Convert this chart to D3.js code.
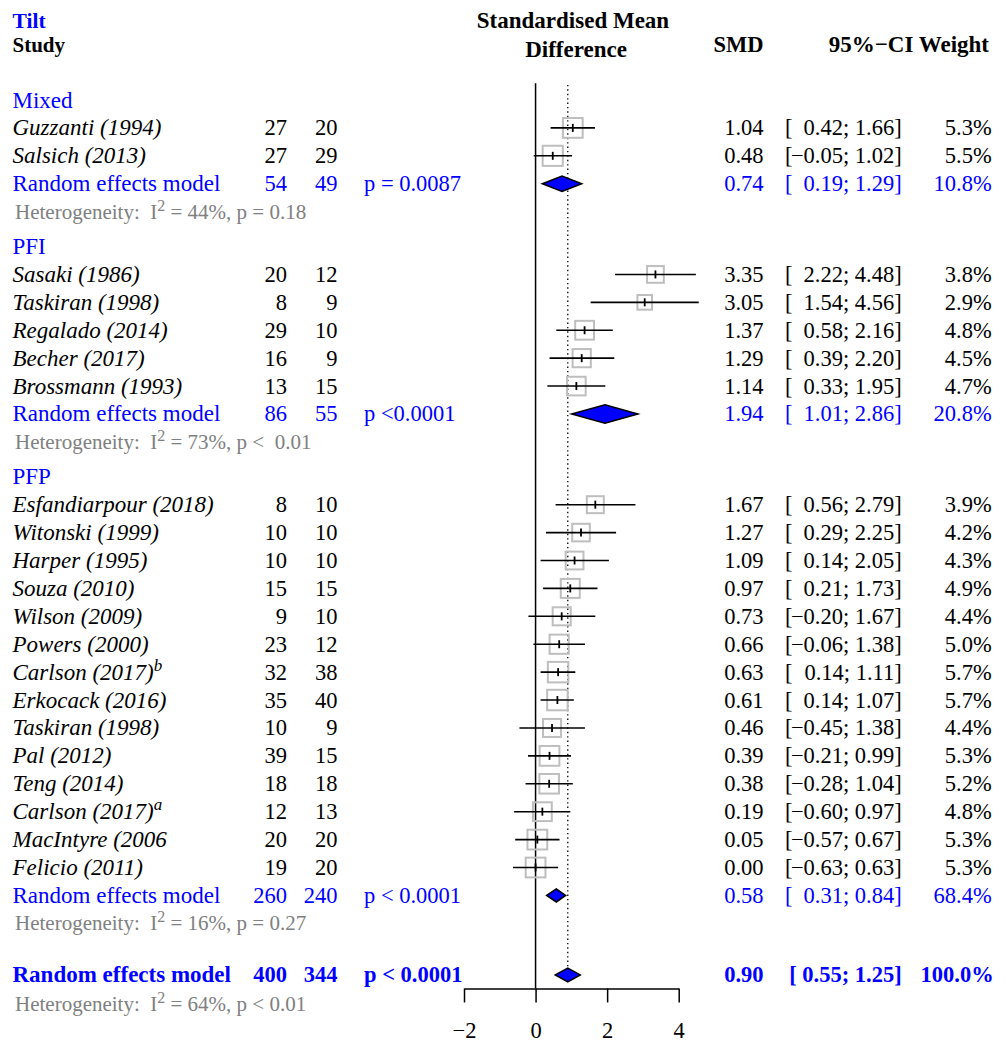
<!DOCTYPE html>
<html><head><meta charset="utf-8">
<script src="https://cdn.jsdelivr.net/npm/d3@7"></script>
<style>body{margin:0;background:#fff} text{white-space:pre}</style>
</head><body><svg id="c" width="1006" height="1050"></svg>
<script>
// ---------------- data ----------------
const title = "Tilt";
const groupNames = ["Mixed", "PFI", "PFP"];
const studyGroup = [0,0, 1,1,1,1,1, 2,2,2,2,2,2,2,2,2,2,2,2,2,2];
const studyLabels = ["Guzzanti (1994)","Salsich (2013)",
  "Sasaki (1986)","Taskiran (1998)","Regalado (2014)","Becher (2017)","Brossmann (1993)",
  "Esfandiarpour (2018)","Witonski (1999)","Harper (1995)","Souza (2010)","Wilson (2009)","Powers (2000)",
  "Carlson (2017)","Erkocack (2016)","Taskiran (1998)","Pal (2012)","Teng (2014)","Carlson (2017)",
  "MacIntyre (2006","Felicio (2011)"];
const studySup = ["","", "","","","","", "","","","","","", "b","","","","","a", "",""];
const nExp = [27,27, 20,8,29,16,13, 8,10,10,15,9,23,32,35,10,39,18,12,20,19];
const nCtl = [20,29, 12,9,10,9,15, 10,10,10,15,10,12,38,40,9,15,18,13,20,20];
const smd = [1.04,0.48, 3.35,3.05,1.37,1.29,1.14, 1.67,1.27,1.09,0.97,0.73,0.66,0.63,0.61,0.46,0.39,0.38,0.19,0.05,0.00];
const ciLow = [0.42,-0.05, 2.22,1.54,0.58,0.39,0.33, 0.56,0.29,0.14,0.21,-0.20,-0.06,0.14,0.14,-0.45,-0.21,-0.28,-0.60,-0.57,-0.63];
const ciHigh = [1.66,1.02, 4.48,4.56,2.16,2.20,1.95, 2.79,2.25,2.05,1.73,1.67,1.38,1.11,1.07,1.38,0.99,1.04,0.97,0.67,0.63];
const weight = [5.3,5.5, 3.8,2.9,4.8,4.5,4.7, 3.9,4.2,4.3,4.9,4.4,5.0,5.7,5.7,4.4,5.3,5.2,4.8,5.3,5.3];

const subN1 = [54, 86, 260];
const subN2 = [49, 55, 240];
const subP = ["p = 0.0087", "p <0.0001", "p < 0.0001"];
const subSmd = [0.74, 1.94, 0.58];
const subLow = [0.19, 1.01, 0.31];
const subHigh = [1.29, 2.86, 0.84];
const subWeight = [10.8, 20.8, 68.4];
const subI2 = [44, 73, 16];
const subHetP = ["p = 0.18", "p <  0.01", "p = 0.27"];

const allN1 = 400, allN2 = 344, allP = "p < 0.0001";
const allSmd = 0.90, allLow = 0.55, allHigh = 1.25, allWeight = 100.0;
const allI2 = 64, allHetP = "p < 0.01";

const xTicks = [-2, 0, 2, 4];
const modelLabel = "Random effects model";

// ---------------- layout ----------------
const BLUE = "#0000ff", GRAY = "#808080", SQ = "#bebebe";
const FONT = "'Liberation Serif','Times New Roman',Times,serif";
const FS = 23;      // labels
const FSN = 22.5;   // numbers
const svg = d3.select("#c").style("font-family", FONT);

const x = d3.scaleLinear().domain([-2, 4]).range([464, 678.7]);
const y = d3.scaleLinear().domain([0, 27.5]).range([100, 867.5]);
const sqSide = d3.scaleSqrt().domain([0, 5.7]).range([0, 20.5]);

// build row positions
const rows = [];
let pos = 0;
groupNames.forEach((g, gi) => {
  rows.push({type: "group", pos, gi});
  pos += 1;
  studyLabels.forEach((s, i) => {
    if (studyGroup[i] === gi) { rows.push({type: "study", pos, i}); pos += 1; }
  });
  rows.push({type: "sub", pos, gi}); pos += 1;
  rows.push({type: "subhet", pos, gi});
  pos += (gi < groupNames.length - 1) ? 1.25 : 1.85;
});
const overallPos = pos;
const yOverall = y(overallPos);
const yAxis = yOverall + 13.5;

const fmt2 = d3.format(".2f");
const minus = s => s.replace("-", "\u2212");
const fmtW = w => w.toFixed(1) + "%";

// columns
const colLabel = 12.5, colN1 = 287, colN2 = 337.5, colP = 364, colSmd = 763.5,
      colCiL = 785, colCiR = 901.7, colW = 991.7;

function txt(xp, yp, s, opts = {}) {
  const t = svg.append("text").attr("x", xp).attr("y", yp).text(s)
    .attr("font-size", opts.fs || FSN)
    .attr("fill", opts.fill || "#000");
  if (opts.anchor) t.attr("text-anchor", opts.anchor);
  if (opts.bold) t.attr("font-weight", "bold");
  if (opts.italic) t.attr("font-style", "italic");
  return t;
}
const BO = 7.5; // baseline offset from row center

// headers
txt(colLabel, 27.5, title, {bold: true, fill: BLUE, fs: 21.5});
txt(colLabel, 52, "Study", {bold: true, fs: 21});
txt(573, 28, "Standardised Mean", {bold: true, anchor: "middle", fs: 23});
txt(576, 57, "Difference", {bold: true, anchor: "middle", fs: 23});
txt(colSmd, 52, "SMD", {bold: true, anchor: "end", fs: 22.5});
txt(989, 52, "95%\u2212CI Weight", {bold: true, anchor: "end", fs: 23});

// reference lines
svg.append("line").attr("x1", x(0)).attr("x2", x(0))
  .attr("y1", y(-0.6)).attr("y2", yAxis)
  .attr("stroke", "#000").attr("stroke-width", 1.5);
const allHalfH = 5.5 + 2 * (allHigh - allLow);
svg.append("line").attr("x1", x(allSmd)).attr("x2", x(allSmd))
  .attr("y1", y(-0.54)).attr("y2", yOverall - allHalfH)
  .attr("stroke", "#000").attr("stroke-width", 1.3).attr("stroke-dasharray", "1.4,3");

function ciText(yp, lo, hi, color) {
  txt(colCiL, yp + BO, "[", {fill: color});
  txt(colCiR, yp + BO, minus(fmt2(lo)) + "; " + minus(fmt2(hi)) + "]", {anchor: "end", fill: color});
}
function diamond(yp, est, lo, hi) {
  const h = 5.5 + 2 * (hi - lo);
  svg.append("path")
    .attr("d", `M${x(lo)},${yp}L${x(est)},${yp - h}L${x(hi)},${yp}L${x(est)},${yp + h}Z`)
    .attr("fill", BLUE).attr("stroke", "#000").attr("stroke-width", 1.5);
}
function het(yp, i2, p) {
  const t = txt(15, yp + 7, "Heterogeneity:  I", {fill: GRAY, fs: 21});
  t.append("tspan").attr("font-size", 16).attr("dy", -8).text("2");
  t.append("tspan").attr("dy", 8).text(" = " + i2 + "%, " + p);
}

rows.forEach(r => {
  const yp = y(r.pos);
  if (r.type === "group") {
    txt(colLabel, yp + BO, groupNames[r.gi], {fill: BLUE, fs: FS});
  } else if (r.type === "study") {
    const i = r.i;
    const t = txt(colLabel, yp + BO, studyLabels[i], {italic: true, fs: FS});
    if (studySup[i]) t.append("tspan").attr("font-size", 17).attr("dy", -9).text(studySup[i]);
    txt(colN1, yp + BO, nExp[i], {anchor: "end"});
    txt(colN2, yp + BO, nCtl[i], {anchor: "end"});
    txt(colSmd, yp + BO, minus(fmt2(smd[i])), {anchor: "end"});
    ciText(yp, ciLow[i], ciHigh[i], "#000");
    txt(colW, yp + BO, fmtW(weight[i]), {anchor: "end"});
    const s = sqSide(weight[i]);
    svg.append("rect").attr("x", x(smd[i]) - s / 2).attr("y", yp - s / 2)
      .attr("width", s).attr("height", s)
      .attr("fill", "none").attr("stroke", SQ).attr("stroke-width", 2);
    svg.append("line").attr("x1", x(ciLow[i])).attr("x2", x(ciHigh[i]))
      .attr("y1", yp).attr("y2", yp).attr("stroke", "#000").attr("stroke-width", 1.6);
    svg.append("line").attr("x1", x(smd[i])).attr("x2", x(smd[i]))
      .attr("y1", yp - 4).attr("y2", yp + 4).attr("stroke", "#000").attr("stroke-width", 1.8);
  } else if (r.type === "sub") {
    const g = r.gi;
    txt(colLabel, yp + BO, modelLabel, {fill: BLUE, fs: FS});
    txt(colN1, yp + BO, subN1[g], {anchor: "end", fill: BLUE});
    txt(colN2, yp + BO, subN2[g], {anchor: "end", fill: BLUE});
    txt(colP, yp + BO, subP[g], {fill: BLUE});
    txt(colSmd, yp + BO, fmt2(subSmd[g]), {anchor: "end", fill: BLUE});
    ciText(yp, subLow[g], subHigh[g], BLUE);
    txt(colW, yp + BO, fmtW(subWeight[g]), {anchor: "end", fill: BLUE});
    diamond(yp, subSmd[g], subLow[g], subHigh[g]);
  } else if (r.type === "subhet") {
    het(yp, subI2[r.gi], subHetP[r.gi]);
  }
});

// overall
txt(colLabel, yOverall + BO, modelLabel, {fill: BLUE, bold: true, fs: FS});
txt(colN1, yOverall + BO, allN1, {anchor: "end", fill: BLUE, bold: true});
txt(colN2, yOverall + BO, allN2, {anchor: "end", fill: BLUE, bold: true});
txt(colP, yOverall + BO, allP, {fill: BLUE, bold: true});
txt(colSmd, yOverall + BO, fmt2(allSmd), {anchor: "end", fill: BLUE, bold: true});
txt(colCiR, yOverall + BO, "[ " + fmt2(allLow) + "; " + fmt2(allHigh) + "]", {anchor: "end", fill: BLUE, bold: true});
txt(colW + 2, yOverall + BO, fmtW(allWeight), {anchor: "end", fill: BLUE, bold: true});
diamond(yOverall, allSmd, allLow, allHigh);
het(yOverall + 29, allI2, allHetP);

// axis
const axis = d3.axisBottom(x).tickValues(xTicks).tickSize(14).tickSizeOuter(0).tickPadding(20)
  .tickFormat(d => d < 0 ? "\u2212" + Math.abs(d) : String(d));
const ag = svg.append("g").attr("transform", `translate(0,${yAxis})`).call(axis)
  .attr("font-size", 22).attr("font-family", FONT);
ag.selectAll("path,line").attr("stroke", "#000").attr("stroke-width", 1.5);
ag.selectAll("text").style("font-size", "22.5px").style("font-family", FONT).attr("fill", "#000");
</script></body></html>
